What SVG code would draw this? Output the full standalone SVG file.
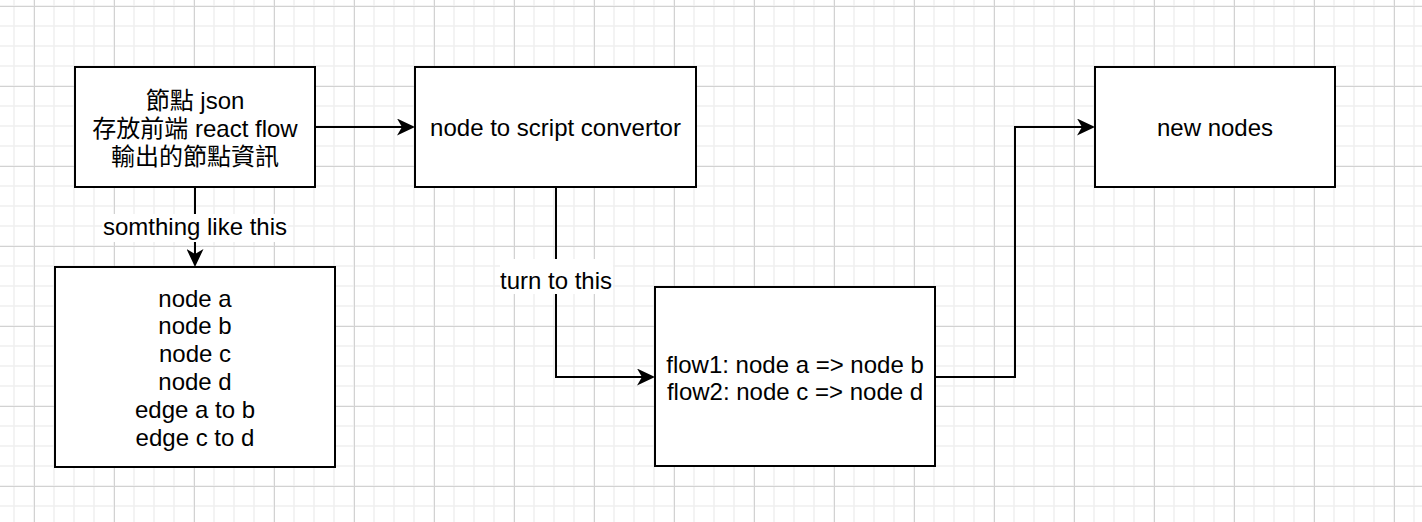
<svg xmlns="http://www.w3.org/2000/svg" width="1422" height="522" viewBox="0 0 1422 522">
  <style>
    .box { fill: #ffffff; stroke: #000000; stroke-width: 2; }
    .t { font-family: "Liberation Sans", "Noto Sans CJK TC", Arial, sans-serif; font-size: 24px; fill: #000000; text-anchor: middle; }
    .edge { fill: none; stroke: #000000; stroke-width: 2; marker-end: url(#arrow); }
    .lblbg { fill: #ffffff; }
  </style>
  <defs>
    <pattern id="minor" x="4" y="-4" width="20" height="20" patternUnits="userSpaceOnUse">
      <path d="M10 0 V20 M0 10 H20" stroke="#f0f0f0" stroke-width="1.6" fill="none"/>
    </pattern>
    <pattern id="major" x="-6" y="-34" width="80" height="80" patternUnits="userSpaceOnUse">
      <path d="M40.5 0 V80 M0 40.5 H80" stroke="#d2d2d2" stroke-width="1" fill="none"/>
    </pattern>
    <marker id="arrow" viewBox="0 0 18 17" refX="5" refY="8.5" markerWidth="18" markerHeight="17" markerUnits="userSpaceOnUse" orient="auto">
      <path d="M0 0 L18 8.5 L0 17 L5 8.5 Z" fill="#000000"/>
    </marker>
  </defs>

  <rect width="1422" height="522" fill="#ffffff"/>
  <rect width="1422" height="522" fill="url(#minor)"/>
  <rect width="1422" height="522" fill="url(#major)"/>

  <g id="connectors">
    <path class="edge" d="M315 127 H402"/>
    <path class="edge" d="M195 187 V254"/>
    <path class="edge" d="M556 187 V377 H642"/>
    <path class="edge" d="M935 377 H1015 V127 H1082"/>
    <rect class="lblbg" x="102" y="214" width="186" height="28"/>
    <text class="t" x="195" y="235">somthing like this</text>
    <rect class="lblbg" x="500" y="259" width="113" height="35"/>
    <text class="t" x="556" y="289">turn to this</text>
  </g>

  <g id="node-json">
    <rect class="box" x="75" y="67" width="240" height="120"/>
    <text class="t" x="195" y="108.5">節點 json</text>
    <text class="t" x="195" y="136.5">存放前端 react flow</text>
    <text class="t" x="195" y="164.5">輸出的節點資訊</text>
  </g>

  <g id="node-convertor">
    <rect class="box" x="415" y="67" width="281" height="120"/>
    <text class="t" x="555.5" y="135.5">node to script convertor</text>
  </g>

  <g id="node-new">
    <rect class="box" x="1095" y="67" width="240" height="120"/>
    <text class="t" x="1215" y="135.5">new nodes</text>
  </g>

  <g id="node-list">
    <rect class="box" x="55" y="267" width="280" height="200"/>
    <text class="t" x="195" y="306.5">node a</text>
    <text class="t" x="195" y="334.3">node b</text>
    <text class="t" x="195" y="362.1">node c</text>
    <text class="t" x="195" y="389.9">node d</text>
    <text class="t" x="195" y="417.7">edge a to b</text>
    <text class="t" x="195" y="445.5">edge c to d</text>
  </g>

  <g id="node-flow">
    <rect class="box" x="655" y="287" width="280" height="179"/>
    <text class="t" x="795" y="372.5">flow1: node a =&gt; node b</text>
    <text class="t" x="795" y="400.3">flow2: node c =&gt; node d</text>
  </g>
</svg>
